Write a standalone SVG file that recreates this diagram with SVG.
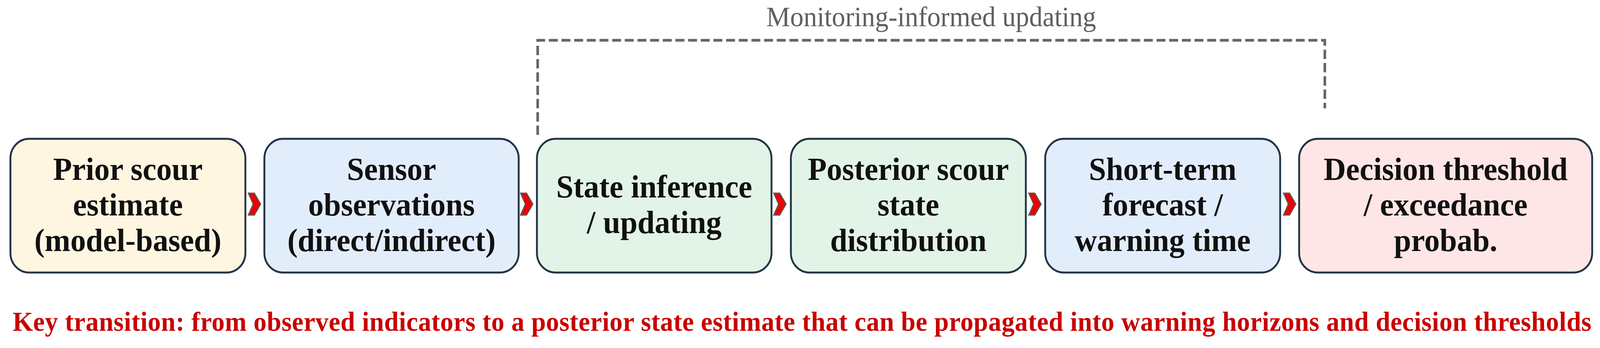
<svg xmlns="http://www.w3.org/2000/svg" width="4297" height="890" viewBox="0 0 4297 890" preserveAspectRatio="none">
<style>
svg{width:100vw;height:100vh}
.box{stroke:#243447;stroke-width:5}
.lbl{font-family:"Liberation Serif","Times New Roman",serif;font-weight:bold;font-size:83px;fill:#111;text-anchor:middle}
.chev{fill:#F00000;stroke:#5a5a5a;stroke-width:3;stroke-linejoin:miter}
.dash{fill:none;stroke:#666;stroke-width:7;stroke-dasharray:24 10}
</style>
<defs>
<polygon id="chevron" class="chev" points="0,-28 16,-28 33,0 16,28 0,28 13,0"/>
</defs>
<rect width="4297" height="890" fill="#fff"/>
<g id="n1">
<rect class="box" x="28" y="355" width="631" height="342" rx="50" fill="#FFF6E1"/>
<text class="lbl" x="343.5" y="460">Prior scour</text>
<text class="lbl" x="343.5" y="551">estimate</text>
<text class="lbl" x="343.5" y="642">(model-based)</text>
</g>
<g id="n2">
<rect class="box" x="710" y="355" width="683" height="342" rx="50" fill="#E2EDFB"/>
<text class="lbl" x="1051.5" y="460">Sensor</text>
<text class="lbl" x="1051.5" y="551">observations</text>
<text class="lbl" x="1051.5" y="642">(direct/indirect)</text>
</g>
<g id="n3">
<rect class="box" x="1442" y="355" width="630" height="342" rx="50" fill="#E2F4E7"/>
<text class="lbl" x="1757" y="505">State inference</text>
<text class="lbl" x="1757" y="596">/ updating</text>
</g>
<g id="n4">
<rect class="box" x="2124" y="355" width="631" height="342" rx="50" fill="#E2F4E7"/>
<text class="lbl" x="2439.5" y="460">Posterior scour</text>
<text class="lbl" x="2439.5" y="551">state</text>
<text class="lbl" x="2439.5" y="642">distribution</text>
</g>
<g id="n5">
<rect class="box" x="2807" y="355" width="631" height="342" rx="50" fill="#E2EDFB"/>
<text class="lbl" x="3122.5" y="460">Short-term</text>
<text class="lbl" x="3122.5" y="551">forecast /</text>
<text class="lbl" x="3122.5" y="642">warning time</text>
</g>
<g id="n6">
<rect class="box" x="3489" y="355" width="787" height="342" rx="50" fill="#FDE6E5"/>
<text class="lbl" x="3882.5" y="460">Decision threshold</text>
<text class="lbl" x="3882.5" y="551">/ exceedance</text>
<text class="lbl" x="3882.5" y="642">probab.</text>
</g>
<g id="connectors">
<use href="#chevron" x="667" y="522"/>
<use href="#chevron" x="1398" y="522"/>
<use href="#chevron" x="2078" y="522"/>
<use href="#chevron" x="2763" y="522"/>
<use href="#chevron" x="3447" y="522"/>
<path class="dash" d="M1444,345 V103 H3558 V277"/>
<text x="2501" y="67" font-family="'Liberation Serif','Times New Roman',serif" font-size="72" fill="#5f5f5f" text-anchor="middle">Monitoring-informed updating</text>
</g>
<text id="note" x="2154" y="846" font-family="'Liberation Serif','Times New Roman',serif" font-weight="bold" font-size="70" fill="#C80000" text-anchor="middle" textLength="4240" lengthAdjust="spacing">Key transition: from observed indicators to a posterior state estimate that can be propagated into warning horizons and decision thresholds</text>
</svg>
